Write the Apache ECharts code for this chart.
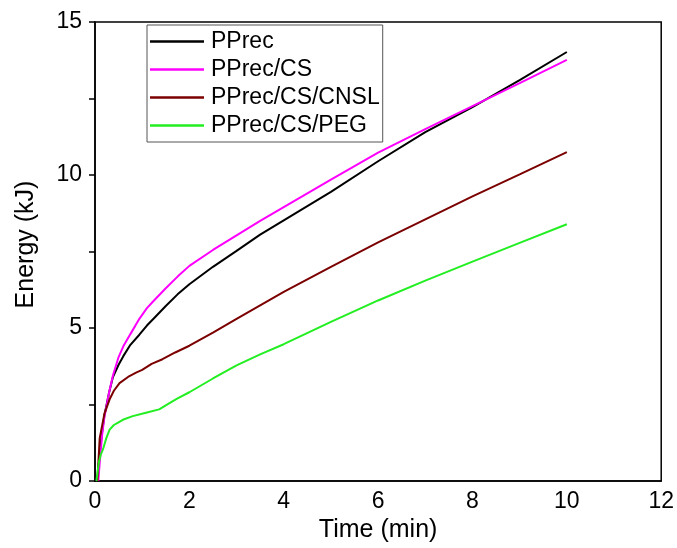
<!DOCTYPE html>
<html>
<head>
<meta charset="utf-8">
<script src="https://cdn.jsdelivr.net/npm/echarts@6/dist/echarts.min.js"></script>
<style>
  html, body { margin: 0; padding: 0; background: #fff; }
  #main { width: 677px; height: 548px; }
</style>
</head>
<body>
<div id="main"></div>
<script>
// values: [time (min), energy (kJ)]
const ppRec = [
  [0.05, 0], [0.1, 0.9], [0.15, 1.6], [0.2, 2.15], [0.3, 2.9], [0.38, 3.4],
  [0.5, 3.8], [0.6, 4.08], [0.75, 4.45], [0.94, 4.78], [1.1, 5.08], [1.25, 5.32],
  [1.5, 5.72], [1.75, 6.1], [2, 6.43], [2.5, 7.0], [3, 7.52], [3.5, 8.05],
  [4, 8.52], [5, 9.45], [6, 10.45], [7, 11.4], [8, 12.22], [9, 13.1], [10, 14.02]
];
const ppRecCS = [
  [0.07, 0], [0.1, 0.6], [0.15, 1.5], [0.2, 2.1], [0.3, 2.9], [0.38, 3.45],
  [0.5, 4.05], [0.6, 4.4], [0.75, 4.8], [0.94, 5.3], [1.1, 5.65], [1.25, 5.9],
  [1.5, 6.3], [1.75, 6.68], [2, 7.03], [2.5, 7.55], [3, 8.03], [3.5, 8.5],
  [4, 8.95], [5, 9.85], [6, 10.73], [7, 11.5], [8, 12.25], [9, 13.0], [10, 13.76]
];
const ppRecCSCNSL = [
  [0.05, 0], [0.1, 1.4], [0.2, 2.2], [0.31, 2.67], [0.4, 2.95], [0.52, 3.2],
  [0.7, 3.4], [0.87, 3.54], [1, 3.63], [1.2, 3.83], [1.43, 3.98], [1.7, 4.2],
  [2, 4.42], [2.5, 4.85], [3, 5.3], [4, 6.18], [5, 7.0], [6, 7.8],
  [7, 8.55], [8, 9.3], [9, 10.02], [10, 10.75]
];
const ppRecCSPEG = [
  [0.03, 0], [0.08, 0.6], [0.12, 0.85], [0.17, 1.04], [0.24, 1.4], [0.31, 1.68],
  [0.4, 1.83], [0.49, 1.91], [0.59, 2.0], [0.8, 2.12], [1.08, 2.23], [1.36, 2.34],
  [1.57, 2.54], [1.75, 2.7], [2, 2.9], [2.5, 3.35], [3, 3.78], [3.5, 4.14],
  [4, 4.47], [5, 5.2], [6, 5.9], [7, 6.55], [8, 7.17], [9, 7.78], [10, 8.39]
];
const seriesNames = ['PPrec', 'PPrec/CS', 'PPrec/CS/CNSL', 'PPrec/CS/PEG'];
const seriesColors = ['#000000', '#ff00ff', '#7b0000', '#22ee22'];
const seriesData = [ppRec, ppRecCS, ppRecCSCNSL, ppRecCSPEG];

const font = 'Liberation Sans, Arial, sans-serif';

const chart = echarts.init(document.getElementById('main'), null, { renderer: 'canvas' });

const option = {
  backgroundColor: '#fff',
  animation: false,
  grid: {
    left: 95, right: 10, top: 22, bottom: 67,
    show: true, borderColor: '#000', borderWidth: 1.5, backgroundColor: 'transparent'
  },
  legend: {
    orient: 'vertical',
    left: 147, top: 25,
    padding: [5, 3, 5, 3],
    itemGap: 5,
    itemWidth: 54,
    itemHeight: 2.5,
    icon: 'rect',
    borderColor: '#555',
    borderWidth: 1,
    data: seriesNames,
    textStyle: { fontFamily: font, fontSize: 23, color: '#000', lineHeight: 23, padding: [0, 0, 0, 2] }
  },
  xAxis: {
    type: 'value',
    min: 0, max: 12, interval: 2,
    name: 'Time (min)',
    nameLocation: 'middle',
    nameGap: 37,
    nameTextStyle: { fontFamily: font, fontSize: 25, color: '#000' },
    axisLine: { show: true, lineStyle: { color: '#000', width: 1.5 } },
    axisTick: { show: false },
    axisLabel: { fontFamily: font, fontSize: 23, color: '#000', margin: 9 },
    splitLine: { show: false }
  },
  yAxis: {
    type: 'value',
    min: 0, max: 15, interval: 2.5,
    name: 'Energy (kJ)',
    nameLocation: 'middle',
    nameGap: 56,
    nameTextStyle: { fontFamily: font, fontSize: 25, color: '#000', padding: [0, 0, 0, 14] },
    axisLine: { show: true, lineStyle: { color: '#000', width: 1.5 } },
    axisTick: { show: true, inside: false, length: 6, lineStyle: { color: '#000', width: 1.5 } },
    axisLabel: {
      fontFamily: font, fontSize: 23, color: '#000', margin: 13,
      formatter: v => (v % 5 === 0 ? String(v) : '')
    },
    splitLine: { show: false }
  },
  series: seriesNames.map((name, i) => ({
    name: name,
    type: 'line',
    data: seriesData[i],
    smooth: false,
    showSymbol: false,
    symbol: 'none',
    color: seriesColors[i],
    lineStyle: { color: seriesColors[i], width: 2 }
  }))
};

chart.setOption(option);
</script>
</body>
</html>
